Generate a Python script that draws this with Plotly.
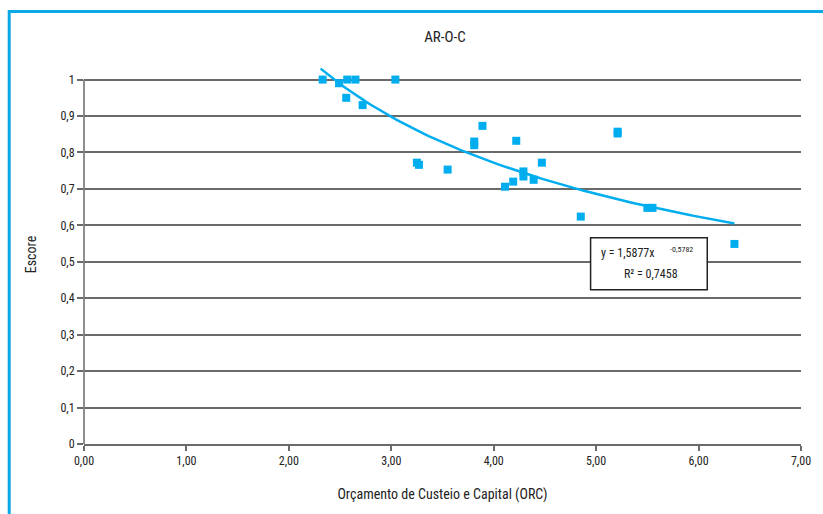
import numpy as np
import plotly.graph_objects as go

# Data
orc = [2.33, 2.49, 2.57, 2.65, 2.56, 2.72, 3.04, 3.25, 3.27, 3.55, 3.81, 3.81,
       3.89, 4.22, 4.11, 4.19, 4.29, 4.29, 4.39, 4.47, 4.85, 5.21, 5.21, 5.50,
       5.55, 6.35]
escore = [1.0, 0.99, 1.0, 1.0, 0.95, 0.93, 1.0, 0.772, 0.766, 0.753, 0.830, 0.820,
          0.873, 0.832, 0.706, 0.720, 0.748, 0.734, 0.725, 0.772, 0.624, 0.857, 0.852,
          0.648, 0.648, 0.549]
y_ticks = [0, 0.1, 0.2, 0.3, 0.4, 0.5, 0.6, 0.7, 0.8, 0.9, 1]
y_labels = ["0", "0,1", "0,2", "0,3", "0,4", "0,5", "0,6", "0,7", "0,8", "0,9", "1"]
x_ticks = [0, 1, 2, 3, 4, 5, 6, 7]
x_labels = ["0,00", "1,00", "2,00", "3,00", "4,00", "5,00", "6,00", "7,00"]
# trend curve as drawn in the picture (power form a*x^b)
trend_a, trend_b = 1.60, -0.526
eq_main = "y = 1,5877x"
eq_exp = "-0,5782"
r2_text = "R² = 0,7458"

FONT = "Liberation Sans Narrow, Arial Narrow, Roboto Condensed, Roboto, sans-serif"
BLUE = "#00aeef"
GRID = "#6a6a6a"
TXT = "#222222"

xs = np.linspace(min(orc) - 0.02, max(orc), 100)
ys = trend_a * xs ** trend_b

fig = go.Figure()
fig.add_trace(go.Scatter(x=xs, y=ys, mode="lines", line=dict(color=BLUE, width=2.5),
                         hoverinfo="skip", showlegend=False))
fig.add_trace(go.Scatter(x=orc, y=escore, mode="markers",
                         marker=dict(symbol="square", size=8, color=BLUE),
                         showlegend=False))

L, R, T, B = 84, 20, 65.4, 70
W, H = 823, 514
pw, ph = W - L - R, H - T - B

def px(x):
    return (x - L) / pw

def py(y):
    return (H - B - y) / ph

shapes = [
    dict(type="line", xref="paper", yref="y", x0=0, x1=0, y0=0, y1=1,
         line=dict(color=GRID, width=1.5)),
    dict(type="rect", xref="paper", yref="paper", x0=px(9), x1=px(W + 20),
         y0=py(H + 20), y1=py(12), line=dict(color="#0aa8e6", width=3)),
    dict(type="rect", xref="paper", yref="paper", x0=px(592), x1=px(709),
         y0=py(290), y1=py(238), fillcolor="white", line=dict(color=TXT, width=1.5)),
]

annotations = [
    dict(text=eq_main, xref="paper", yref="paper", x=px(600), y=py(253),
         xanchor="left", yanchor="middle", showarrow=False,
         font=dict(size=12, color=TXT, family=FONT)),
    dict(text=eq_exp, xref="paper", yref="paper", x=px(670), y=py(250),
         xanchor="left", yanchor="middle", showarrow=False,
         font=dict(size=8, color=TXT, family=FONT)),
    dict(text=r2_text, xref="paper", yref="paper", x=px(653), y=py(274),
         xanchor="center", yanchor="middle", showarrow=False,
         font=dict(size=12, color=TXT, family=FONT)),
]

fig.update_layout(
    width=W, height=H,
    margin=dict(l=L, r=R, t=T, b=B, pad=0),
    paper_bgcolor="white", plot_bgcolor="white",
    font=dict(family=FONT, size=12, color=TXT),
    title=dict(text="AR-O-C", xref="container", yref="container", x=445 / W,
               y=1 - 37 / H, xanchor="center", yanchor="middle",
               font=dict(size=15, family=FONT, color=TXT)),
    shapes=shapes, annotations=annotations,
    xaxis=dict(range=[0, 7], tickvals=x_ticks, ticktext=x_labels, showgrid=False,
               zeroline=False, showline=True, linecolor=GRID, linewidth=1.5,
               ticks="outside", ticklen=5, tickcolor=GRID, tickwidth=1.5,
               tickfont=dict(size=12), title=dict(text="Orçamento de Custeio e Capital (ORC)",
               font=dict(size=14), standoff=22)),
    yaxis=dict(range=[0, 1.04], tickvals=y_ticks, ticktext=y_labels, showgrid=True,
               gridcolor=GRID, gridwidth=1.6, zeroline=False, showline=False,
               ticks="outside", ticklen=6, tickcolor=GRID, tickwidth=1.5,
               tickfont=dict(size=12), title=dict(text="Escore", font=dict(size=14),
               standoff=20)),
)

fig.write_html("out.html")
